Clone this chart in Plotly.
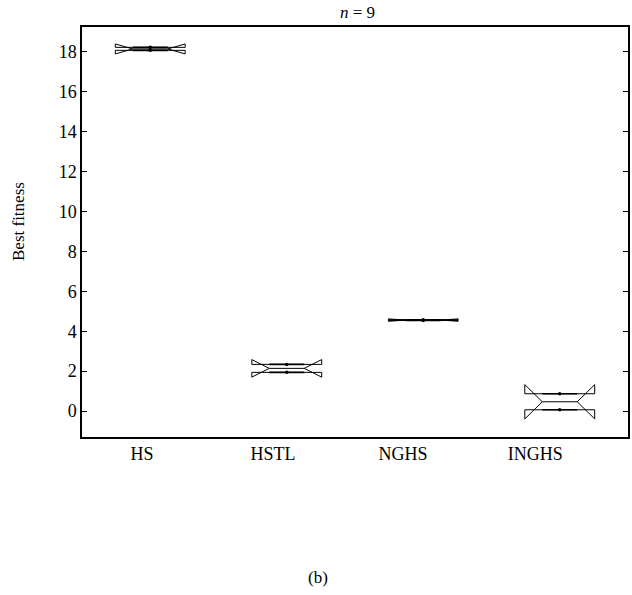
import plotly.graph_objects as go

categories = ["HS", "HSTL", "NGHS", "INGHS"]
positions = [1, 2, 3, 4]
q1 = [18.08, 1.94, 4.54, 0.065]
median = [18.15, 2.14, 4.56, 0.466]
q3 = [18.23, 2.34, 4.58, 0.868]
notchspan = [0.25, 0.44, 0.06, 0.86]
label_positions = [0.94, 1.90, 2.852, 3.82]
y_ticks = [0, 2, 4, 6, 8, 10, 12, 14, 16, 18]

FONT = "Liberation Serif"
HALF_W = 0.256      # half box width (data units)
NOTCH_IN = 0.5      # notch narrows to half the box width

# notched box outlines, built from the statistics above
ox, oy = [], []
cx, cy = [], []
for p, a, m, b, ns in zip(positions, q1, median, q3, notchspan):
    x0, x1 = p - HALF_W, p + HALF_W
    xm0, xm1 = p - NOTCH_IN * HALF_W, p + NOTCH_IN * HALF_W
    ln, un = m - ns, m + ns
    ox += [x0, x0, xm0, x0, x0, x1, x1, xm1, x1, x1, x0, None, xm0, xm1, None]
    oy += [a, ln, m, un, b, b, un, m, ln, a, a, None, m, m, None]
    cx += [xm0, xm1, None, xm0, xm1, None]
    cy += [a, a, None, b, b, None]

fig = go.Figure()
fig.add_trace(go.Scatter(x=ox, y=oy, mode="lines", line=dict(color="black", width=1),
                         showlegend=False, hoverinfo="skip"))
fig.add_trace(go.Scatter(x=cx, y=cy, mode="lines", line=dict(color="black", width=1.6),
                         showlegend=False, hoverinfo="skip"))
fig.add_trace(go.Scatter(x=positions + positions, y=q1 + q3, mode="markers",
                         marker=dict(color="black", size=3.5), showlegend=False, hoverinfo="skip"))

fig.update_layout(
    width=632, height=595,
    margin=dict(l=82, r=4, t=27, b=158, autoexpand=False),
    plot_bgcolor="white", paper_bgcolor="white",
    font=dict(family=FONT, size=18, color="black"),
    annotations=[
        dict(text="<i>n</i> = 9", xref="paper", yref="paper", x=(357 - 82) / 546,
             y=1 + (27 - 13) / 410, xanchor="center", yanchor="middle",
             showarrow=False, font=dict(family=FONT, size=17)),
        dict(text="Best fitness", xref="paper", yref="paper", x=(18 - 82) / 546,
             y=(437 - 222) / 410, xanchor="center", yanchor="middle", textangle=-90,
             showarrow=False, font=dict(family=FONT, size=17)),
        dict(text="(b)", xref="paper", yref="paper", x=(318 - 82) / 546,
             y=-(577 - 437) / 410, xanchor="center", yanchor="middle",
             showarrow=False, font=dict(family=FONT, size=17)),
    ],
)
fig.update_xaxes(
    range=[0.5, 4.5], tickvals=label_positions, ticktext=categories,
    ticks="", showgrid=False, zeroline=False, automargin=False,
    showline=True, linecolor="black", linewidth=1.5, mirror=True,
    tickfont=dict(family=FONT, size=18),
)
fig.update_yaxes(
    range=[-1.30, 19.25], tickvals=y_ticks, ticks="inside", ticklen=5,
    tickcolor="black", showgrid=False, zeroline=False, automargin=False,
    showline=True, linecolor="black", linewidth=1.5, mirror="ticks",
    tickfont=dict(family=FONT, size=18),
)

fig.write_html("out.html", config={"displayModeBar": False},
               post_script="document.body.style.margin='0';")
